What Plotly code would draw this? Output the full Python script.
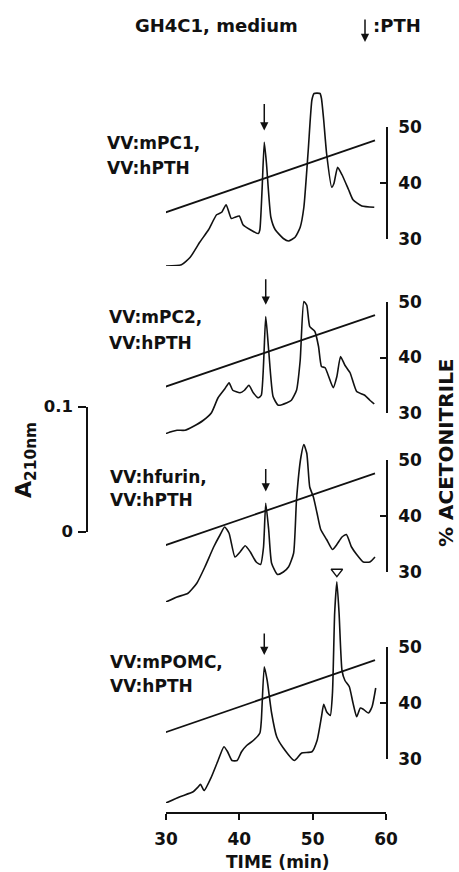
import numpy as np
import plotly.graph_objects as go

# ---------------- data ----------------
panel_labels = [("VV:mPC1,", "VV:hPTH"), ("VV:mPC2,", "VV:hPTH"),
                ("VV:hfurin,", "VV:hPTH"), ("VV:mPOMC,", "VV:hPTH")]

t1 = [30.0, 32.1, 33.3, 34.6, 35.8, 36.9, 37.6, 38.2, 38.9, 39.4, 40.0, 40.5, 41.5, 42.6, 42.8,
      43.1, 43.4, 43.7, 44.3, 44.9, 46.0, 46.7, 47.6, 48.3, 48.8, 49.4, 49.9, 50.2, 51.0, 51.2,
      51.5, 51.9, 52.6, 52.9, 53.4, 54.0, 54.9, 55.5, 56.7, 58.4]
a1 = [0.000, 0.001, 0.007, 0.019, 0.029, 0.041, 0.043, 0.049, 0.038, 0.039, 0.040, 0.033, 0.029, 0.026, 0.029,
      0.061, 0.099, 0.082, 0.039, 0.029, 0.022, 0.020, 0.023, 0.031, 0.047, 0.093, 0.133, 0.138, 0.138, 0.134,
      0.117, 0.090, 0.063, 0.066, 0.079, 0.073, 0.061, 0.053, 0.048, 0.047]

t2 = [29.8, 30.8, 31.5, 32.6, 33.7, 35.1, 36.2, 37.1, 38.0, 38.6, 39.1, 40.1, 40.7, 41.3, 41.9,
      42.6, 43.0, 43.6, 44.0, 44.6, 45.3, 46.5, 47.1, 47.8, 48.3, 48.8, 49.2, 49.6, 50.3, 50.8,
      51.2, 51.7, 52.8, 53.3, 53.8, 54.4, 55.1, 56.0, 57.1, 57.8, 58.4]
a2 = [0.000, 0.002, 0.003, 0.003, 0.006, 0.011, 0.017, 0.029, 0.036, 0.041, 0.035, 0.033, 0.035, 0.039, 0.033,
      0.029, 0.031, 0.094, 0.067, 0.030, 0.023, 0.025, 0.027, 0.035, 0.059, 0.106, 0.103, 0.086, 0.082, 0.070,
      0.054, 0.053, 0.037, 0.046, 0.062, 0.055, 0.049, 0.034, 0.031, 0.027, 0.024]

t3 = [30.0, 31.5, 33.0, 34.2, 35.3, 36.5, 37.4, 38.0, 38.6, 39.4, 40.1, 40.8, 41.5, 42.3, 42.9,
      43.3, 43.6, 44.0, 44.4, 45.2, 46.0, 46.7, 47.4, 47.8, 48.4, 48.8, 49.2, 49.6, 50.1, 50.6,
      51.1, 51.9, 52.7, 53.3, 54.0, 54.6, 55.3, 56.0, 56.9, 57.8, 58.5]
a3 = [0.000, 0.004, 0.007, 0.015, 0.028, 0.044, 0.054, 0.060, 0.055, 0.036, 0.040, 0.045, 0.040, 0.032, 0.030,
      0.044, 0.079, 0.058, 0.031, 0.022, 0.024, 0.028, 0.039, 0.082, 0.116, 0.126, 0.119, 0.092, 0.084, 0.071,
      0.058, 0.050, 0.042, 0.046, 0.052, 0.054, 0.044, 0.038, 0.032, 0.032, 0.036]

t4 = [30.0, 31.9, 33.7, 34.4, 34.7, 35.2, 36.2, 37.1, 37.9, 38.4, 39.0, 39.7, 40.3, 41.0, 41.9,
      42.8, 43.0, 43.4, 43.8, 44.4, 45.1, 46.0, 47.5, 48.5, 49.9, 50.6, 51.2, 51.5, 51.9, 52.4,
      52.7, 53.0, 53.3, 53.6, 54.0, 54.4, 55.0, 55.5, 56.0, 56.5, 56.9, 57.6, 58.1, 58.6]
a4 = [0.000, 0.005, 0.009, 0.013, 0.015, 0.010, 0.021, 0.034, 0.045, 0.041, 0.034, 0.034, 0.041, 0.046, 0.050,
      0.056, 0.066, 0.109, 0.098, 0.072, 0.053, 0.044, 0.034, 0.040, 0.041, 0.050, 0.069, 0.079, 0.073, 0.070,
      0.088, 0.152, 0.177, 0.152, 0.106, 0.098, 0.093, 0.080, 0.069, 0.076, 0.075, 0.072, 0.077, 0.092]

times = [t1, t2, t3, t4]
absorb = [a1, a2, a3, a4]

pth_time = [43.4, 43.6, 43.6, 43.4]          # PTH peak (arrows)
marker_peak = (53.3, 0.185)                   # open triangle over peak in last trace

grad_time = [29.8, 58.5]                      # acetonitrile gradient
grad_pct = [34.7, 47.6]

x_ticks = [30, 40, 50, 60]
pct_ticks = [30, 40, 50]
abs_ticks = [0, 0.1]
abs_tick_text = ["0", "0.1"]

# ---------------- layout geometry (pixels of a 459x872 page) ----------------
W, H = 459, 872
def px(p):
    return p / W
def py(p):
    return 1 - p / H

pct_axis_px = [(239, 127), (413.3, 301.7), (571.7, 460), (759, 646.7)]   # (30 %, 50 %)
baseline_px = [266, 434, 602, 803]
label_px = [((105, 143), (105, 168)), ((107, 317), (107, 343)),
            ((108, 477), (108, 500)), ((108, 662), (108, 686))]
arrow_len = [28, 27, 24, 23]
A_PER_PX = 0.1 / 125.0
A_SPAN_PX = 250

FONT = "DejaVu Sans"
BLACK = "#111111"

def bold(size):
    return dict(family=FONT, size=size, color=BLACK, weight="bold")

fig = go.Figure()
layout = dict(
    template="none",
    width=W, height=H, margin=dict(l=0, r=0, t=0, b=0, pad=0, autoexpand=False),
    paper_bgcolor="white", plot_bgcolor="rgba(0,0,0,0)", showlegend=False,
    font=bold(16),
    xaxis=dict(domain=[px(166), px(386)], range=[30, 60], anchor="free", position=py(813),
               automargin=False,
               showline=True, linecolor=BLACK, linewidth=1.5, ticks="outside", ticklen=6,
               tickwidth=1.5, tickcolor=BLACK, tickvals=x_ticks, showgrid=False, zeroline=False,
               tickfont=bold(17), ticklabelstandoff=5),
)

annotations = []
for i in range(4):
    pid = 2 * i + 1
    aid = 2 * i + 2
    lo, hi = pct_axis_px[i]
    layout["yaxis" if pid == 1 else f"yaxis{pid}"] = dict(
        domain=[py(lo), py(hi)], range=[30, 50], anchor="x", side="right", automargin=False,
        showline=True, linecolor=BLACK, linewidth=1.5, ticks="inside", ticklen=6, tickwidth=1.5,
        tickcolor=BLACK, tickvals=pct_ticks, showgrid=False, zeroline=False,
        tickfont=bold(17), ticklabelstandoff=7)
    base = baseline_px[i]
    layout[f"yaxis{aid}"] = dict(
        domain=[py(base), py(base - A_SPAN_PX)], range=[0, A_SPAN_PX * A_PER_PX],
        anchor="x", visible=False, showgrid=False, zeroline=False, automargin=False)

    fig.add_trace(go.Scatter(x=times[i], y=absorb[i], mode="lines", xaxis="x",
                             yaxis=f"y{aid}",
                             line=dict(color=BLACK, width=1.6, shape="spline", smoothing=0.5),
                             hoverinfo="skip"))
    fig.add_trace(go.Scatter(x=grad_time, y=grad_pct, mode="lines", xaxis="x",
                             yaxis="y" if pid == 1 else f"y{pid}",
                             line=dict(color=BLACK, width=1.8), hoverinfo="skip"))

    # PTH arrow
    tip = float(np.interp(pth_time[i], times[i], absorb[i])) + 0.0095
    annotations.append(dict(x=pth_time[i], y=tip, xref="x", yref=f"y{aid}", text="",
                            showarrow=True, ax=0, ay=-arrow_len[i], arrowhead=2, arrowsize=1.1,
                            arrowwidth=1.5, arrowcolor=BLACK))
    # labels
    for (lx, ly), txt in zip(label_px[i], panel_labels[i]):
        annotations.append(dict(x=px(lx), y=py(ly), xref="paper", yref="paper", text=txt,
                                showarrow=False, xanchor="left", yanchor="middle",
                                font=bold(17)))

# open triangle marker over the late peak of the last trace
fig.add_trace(go.Scatter(x=[marker_peak[0]], y=[marker_peak[1]], mode="markers", xaxis="x",
                         yaxis="y8", marker=dict(symbol="triangle-down-open", size=10,
                                                 color=BLACK, line=dict(width=1.3)),
                         hoverinfo="skip"))

# absorbance scale bar
layout["yaxis9"] = dict(domain=[py(531.7), py(406.7)], range=[0, 0.1], anchor="free",
                        position=px(87), side="left", showline=True, linecolor=BLACK,
                        linewidth=1.5, ticks="outside", ticklen=8, tickwidth=1.5, tickcolor=BLACK,
                        tickvals=abs_ticks, ticktext=abs_tick_text, showgrid=False, zeroline=False,
                        tickfont=bold(16.5), ticklabelstandoff=2, automargin=False)
fig.add_trace(go.Scatter(x=[None], y=[None], xaxis="x", yaxis="y9", mode="lines",
                         hoverinfo="skip"))

# texts
def centered(x, y, text, size, **kw):
    d = dict(x=px(x), y=py(y), xref="paper", yref="paper", text=text, showarrow=False,
             xanchor="center", yanchor="middle", font=bold(size))
    d.update(kw)
    return d

annotations += [
    centered(216, 25, "GH4C1, medium", 18),
    dict(x=px(365), y=py(42), xref="paper", yref="paper", text="", showarrow=True, ax=0, ay=-24,
         arrowhead=2, arrowsize=1.1, arrowwidth=1.5, arrowcolor=BLACK),
    centered(371, 25, ":PTH", 18, xanchor="left"),
    centered(278, 862, "TIME (min)", 17),
    centered(446, 453, "% ACETONITRILE", 20, textangle=-90),
    centered(26, 460, "A<sub>210nm</sub>", 22, textangle=-90),
]
layout["annotations"] = annotations
fig.update_layout(**layout)
fig.write_html("out.html")
